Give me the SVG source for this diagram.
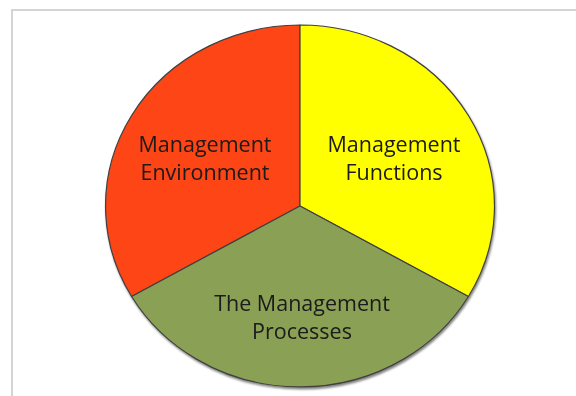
<svg xmlns="http://www.w3.org/2000/svg" width="576" height="396" viewBox="0 0 576 396">
  <style>
    .slice { stroke: #404040; stroke-width: 1.2; stroke-linejoin: round; }
    .lbl { font-family: "Open Sans", "Liberation Sans", sans-serif; font-size: 21.5px; fill: #1a1a1a; text-anchor: middle; }
  </style>
  <defs>
    <filter id="sh" x="-10%" y="-10%" width="120%" height="120%">
      <feGaussianBlur in="SourceAlpha" stdDeviation="1.2"/>
      <feOffset dx="0.5" dy="1.5" result="b"/>
      <feComponentTransfer><feFuncA type="linear" slope="0.5"/></feComponentTransfer>
      <feMerge><feMergeNode/><feMergeNode in="SourceGraphic"/></feMerge>
    </filter>
  </defs>
  <rect x="0" y="0" width="576" height="396" fill="#ffffff"/>
  <rect x="12" y="10" width="600" height="420" fill="#ffffff" stroke="#d4d4d4" stroke-width="2"/>
  <g filter="url(#sh)">
    <g id="environment">
      <path class="slice" d="M300,206 L300,25 A194.5,181 0 0 0 131.6,296.5 Z" fill="#FD4414"/>
      <text class="lbl" x="205" y="152">Management</text>
      <text class="lbl" x="205" y="180">Environment</text>
    </g>
    <g id="functions">
      <path class="slice" d="M300,206 L300,25 A194.5,181 0 0 1 468.4,296.5 Z" fill="#FFFF00"/>
      <text class="lbl" x="394" y="152">Management</text>
      <text class="lbl" x="394" y="180">Functions</text>
    </g>
    <g id="processes">
      <path class="slice" d="M300,206 L468.4,296.5 A194.5,181 0 0 1 131.6,296.5 Z" fill="#8AA155"/>
      <text class="lbl" x="302" y="311">The Management</text>
      <text class="lbl" x="302" y="339">Processes</text>
    </g>
  </g>
  <g id="connectors"></g>
</svg>
